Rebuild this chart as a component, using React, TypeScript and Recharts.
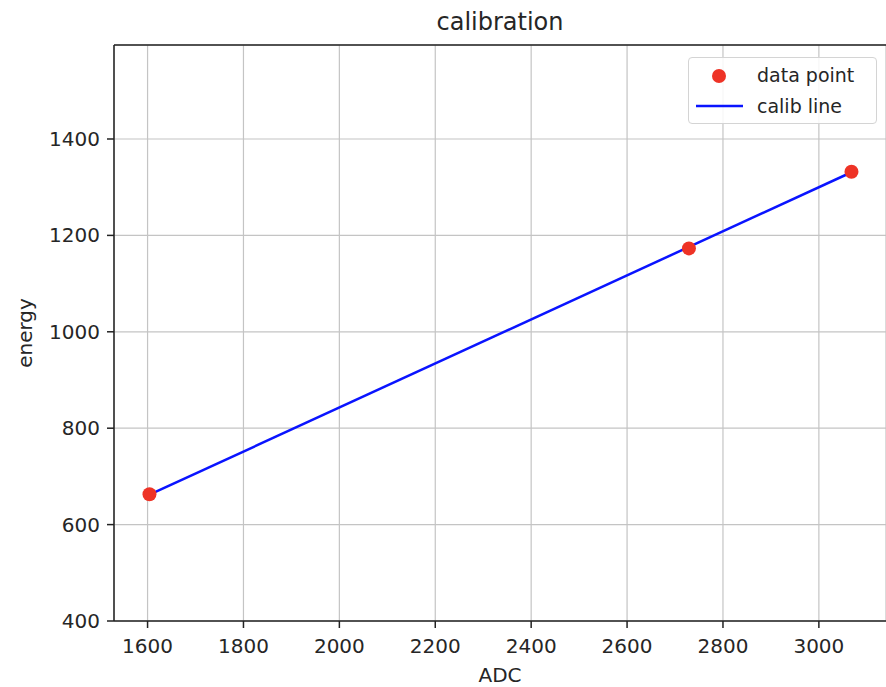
import {
    ComposedChart,
    Scatter,
    Line,
    XAxis,
    YAxis,
    CartesianGrid,
    ReferenceLine,
    Legend,
} from "recharts";

// measured points (ADC channel -> known energy)
const adcValues = [1604, 2729, 3068];
const energyValues = [663, 1173, 1332];

// fitted calibration line end points
const fitAdc = [1604, 3068];
const fitEnergy = [662, 1331];

const xTicks = [1600, 1800, 2000, 2200, 2400, 2600, 2800, 3000];
const yTicks = [400, 600, 800, 1000, 1200, 1400];

const FONT = "'DejaVu Sans', sans-serif";
const TEXT = "#262626";
const RED = "#ee3326";
const BLUE = "#0a14ff";

const points = adcValues.map((x, i) => ({ x, y: energyValues[i] }));
const fitLine = fitAdc.map((x, i) => ({ x, y: fitEnergy[i] }));

function Dot(props: any) {
    const { cx, cy } = props;
    return <circle cx={cx} cy={cy} r={7} fill={RED} />;
}

function LegendBox() {
    return (
        <div
            style={{
                border: "1px solid #d4d4d4",
                borderRadius: 4,
                background: "rgba(255,255,255,0.85)",
                height: 67,
                boxSizing: "border-box",
                fontFamily: FONT,
                fontSize: 19,
                color: TEXT,
                position: "relative",
            }}
        >
            <svg width={60} height={67} style={{ position: "absolute", left: 0, top: 0 }}>
                <circle cx={30} cy={18} r={7} fill={RED} />
                <line x1={7} x2={54} y1={48} y2={48} stroke={BLUE} strokeWidth={2.5} />
            </svg>
            <div style={{ position: "absolute", left: 68, top: 4, lineHeight: "26px" }}>data point</div>
            <div style={{ position: "absolute", left: 68, top: 35, lineHeight: "26px" }}>calib line</div>
        </div>
    );
}

export default function App() {
    return (
        <div style={{ position: "absolute", left: 0, top: 0, width: 886, height: 687, background: "#fff" }}>
            <div
                style={{
                    position: "absolute",
                    left: 114,
                    width: 772,
                    top: 8,
                    textAlign: "center",
                    fontFamily: FONT,
                    fontSize: 24,
                    color: TEXT,
                    lineHeight: "28px",
                }}
            >
                calibration
            </div>
            <div
                style={{
                    position: "absolute",
                    left: 25,
                    top: 333,
                    transform: "translate(-50%, -50%) rotate(-90deg)",
                    fontFamily: FONT,
                    fontSize: 20,
                    color: TEXT,
                    whiteSpace: "nowrap",
                }}
            >
                energy
            </div>
            <ComposedChart
                width={886}
                height={687}
                margin={{ top: 45, right: 0, bottom: 0, left: 0 }}
                style={{ fontFamily: FONT }}
            >
                <CartesianGrid stroke="#c4c4c4" strokeWidth={1.2} />
                <XAxis
                    type="number"
                    dataKey="x"
                    domain={[1530, 3140]}
                    ticks={xTicks}
                    allowDataOverflow
                    height={66}
                    tickSize={7}
                    tickMargin={11}
                    stroke="#222"
                    strokeWidth={1.5}
                    tick={{ fill: TEXT, fontSize: 20 }}
                    label={{ value: "ADC", position: "insideBottom", offset: 5, fill: TEXT, fontSize: 20 }}
                />
                <YAxis
                    type="number"
                    domain={[400, 1595]}
                    ticks={yTicks}
                    allowDataOverflow
                    width={114}
                    tickSize={7}
                    tickMargin={7}
                    stroke="#222"
                    strokeWidth={1.5}
                    tick={{ fill: TEXT, fontSize: 20 }}
                />
                <ReferenceLine y={1595} stroke="#222" strokeWidth={1.5} />
                <Scatter
                    name="data point"
                    data={points}
                    dataKey="y"
                    shape={Dot}
                    isAnimationActive={false}
                />
                <Line
                    name="calib line"
                    data={fitLine}
                    dataKey="y"
                    stroke={BLUE}
                    strokeWidth={2.5}
                    dot={false}
                    activeDot={false}
                    isAnimationActive={false}
                />
                <Legend
                    layout="horizontal"
                    verticalAlign="middle"
                    align="center"
                    wrapperStyle={{ left: 688, top: 57, width: 189 }}
                    content={() => <LegendBox />}
                />
            </ComposedChart>
        </div>
    );
}
